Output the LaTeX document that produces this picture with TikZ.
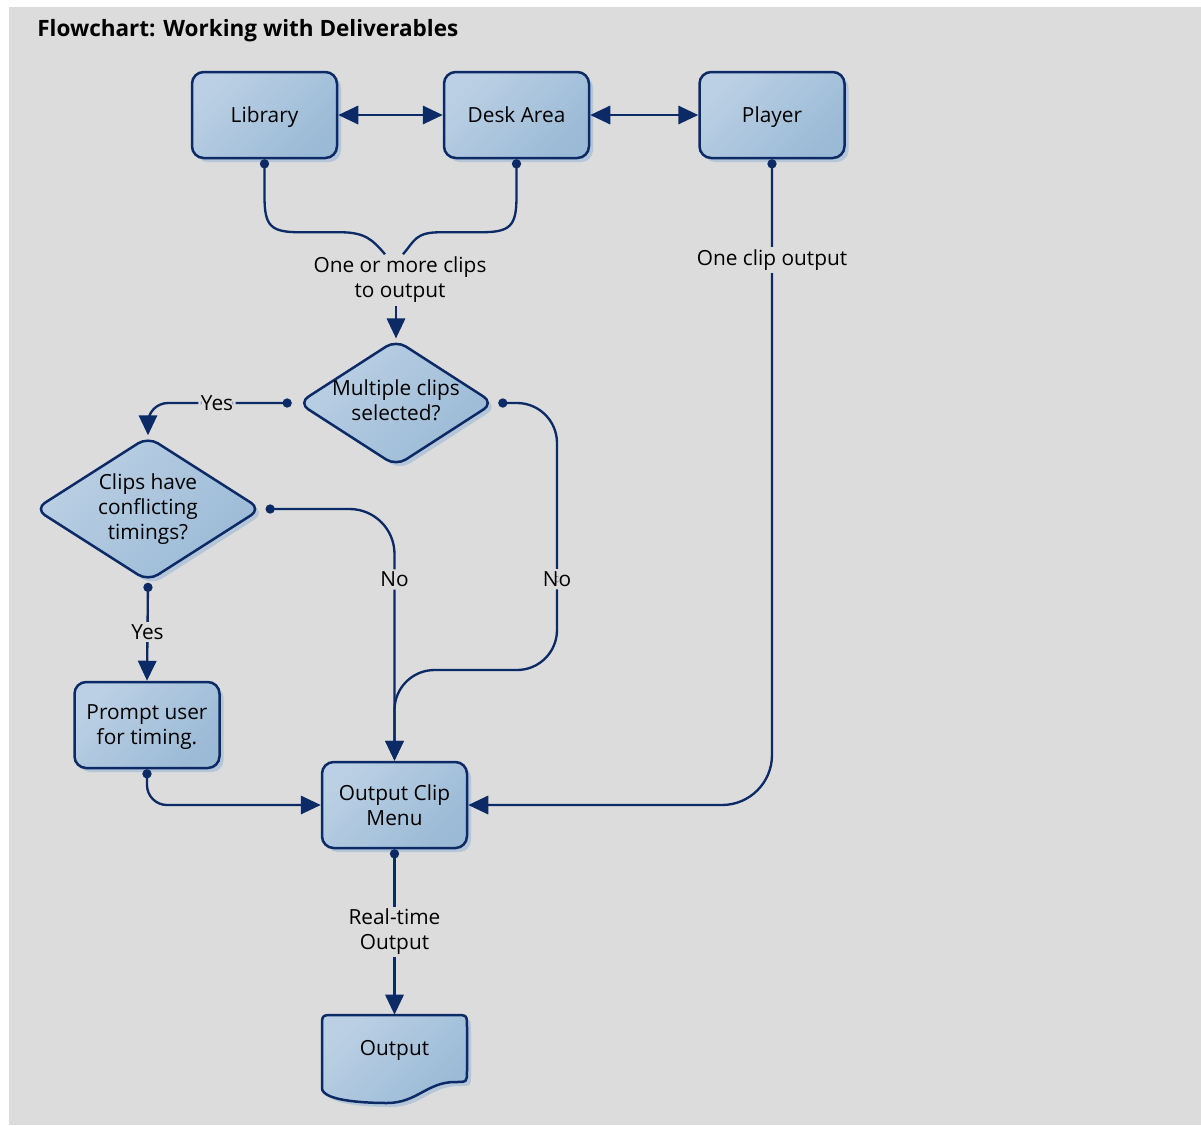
\documentclass[tikz,border=0pt]{standalone}
\usepackage{fontspec}
\setmainfont{Open Sans}
\usepackage{tikz}
\usetikzlibrary{shapes.geometric,arrows.meta,shadows,calc}

\definecolor{bggray}{HTML}{DCDCDC}
\definecolor{navy}{HTML}{0B2A66}
\definecolor{boxlight}{HTML}{BBD0E4}
\definecolor{boxdark}{HTML}{9BBAD6}
\definecolor{shadowblue}{HTML}{B4C6D8}

\newcommand{\decisiontext}[1]{\makebox[0pt]{\begin{tabular}{@{}c@{}}#1\end{tabular}}}

\tikzset{
	shapefill/.style={draw=navy, line width=1.5pt, top color=boxlight, bottom color=boxdark, shading angle=45,
		drop shadow={shadow xshift=2.4pt, shadow yshift=-2.4pt, fill=shadowblue, opacity=1}},
	procbox/.style={shapefill, rectangle, rounded corners=7pt, minimum width=87pt, minimum height=51.6pt, align=center, inner sep=2pt, text depth=0pt},
	decision/.style={shapefill, diamond, rounded corners=7pt, inner sep=0pt},
	lbl/.style={fill=bggray, text=black, inner sep=1.5pt, align=center},
	conn/.style={navy, line width=1.4pt},
	arr/.style={conn, -{Triangle[length=12pt,width=11pt]}},
	link/.style={conn, {Circle[length=5.5pt]}-{Triangle[length=12pt,width=11pt]}},
	dotline/.style={conn, {Circle[length=5.5pt]}-},
	biarrow/.style={conn, {Triangle[length=12pt,width=11pt]}-{Triangle[length=12pt,width=11pt]}},
}

\begin{document}
\begin{tikzpicture}[x=0.6pt, y=-0.6pt, font=\fontsize{12.5}{15}\selectfont]
	\useasboundingbox (0,0) rectangle (1201,1125);
	\fill[bggray] (9,7) rectangle (1201,1125);
	\node[anchor=base west, inner sep=0pt, font=\bfseries\fontsize{13.5}{16}\selectfont] (title) at (37,36) {Flowchart: Working with Deliverables};
	
	% top row
	\node[procbox] (lib) at (264.5,115) {Library};
	\node[procbox] (desk) at (516.5,115) {Desk Area};
	\node[procbox] (player) at (772,115) {Player};
	\draw[biarrow] (lib) -- (desk);
	\draw[biarrow] (desk) -- (player);
	
	\node[lbl] (clipsq) at (400,280) {One or more clips\\to output};
	\draw[dotline] (lib.south) -- ++(0,37) .. controls +(0,30) and +(-30,0) .. ++(36,36) -- ++(40,0) .. controls +(25,0) and +(-12,-14) .. ($(clipsq.north)+(-15,0)$);
	\draw[dotline] (desk.south) -- ++(0,37) .. controls +(0,30) and +(30,0) .. ++(-36,36) -- ++(-40,0) .. controls +(-25,0) and +(12,-14) .. ($(clipsq.north)+(3,0)$);
	
	% decisions
	\node[decision, minimum width=117.6pt, minimum height=76pt] (d1) at (396,403) {\decisiontext{Multiple clips\\selected?}};
	\node[decision, minimum width=136pt, minimum height=87pt] (d2) at (148,509) {\decisiontext{Clips have\\conflicting\\timings?}};
	\draw[arr] (clipsq.south -| d1.north) -- (d1.north);
	
	\node[procbox] (prompt) at (147,725) {Prompt user\\for timing.};
	\node[procbox] (menu) at (394.5,805) {Output Clip\\Menu};
	\coordinate (nobend) at (557,670);
	
	\draw[link, rounded corners=12pt] ($(d1.west)+(-5,0)$) -| node[lbl, pos=0.26] {Yes} (d2.north);
	\draw[link, rounded corners=27pt] ($(d2.east)+(3,0)$) -| node[lbl, pos=0.64] {No} (menu.north);
	\draw[link, rounded corners=24pt] ($(d1.east)+(3,0)$) -| node[lbl, pos=0.83] {No} (nobend) -| (menu.north);
	\draw[link] (d2.south) -- node[lbl] {Yes} (prompt.north);
	\draw[link, rounded corners=12pt] (prompt.south) |- (menu.west);
	\draw[link, rounded corners=30pt] (player.south) |- node[lbl, pos=0.078] {One clip output} (menu.east);
	
	% output document
	\coordinate (outc) at (394.5,1047.5);
	\begin{scope}[shift={(outc)}]
		\draw[shapefill] (-72.5,40.5) -- (-72.5,-20.5) .. controls (-72.5,-32.5) .. (-60.5,-32.5)
			-- (60.5,-32.5) .. controls (72.5,-32.5) .. (72.5,-20.5)
			-- (72.5,23.5) .. controls (72.5,34.5) .. (60.5,34.5)
			.. controls (32.5,34.5) and (22.5,55.5) .. (-7.5,55.5)
			.. controls (-34.5,55.5) and (-72.5,52.5) .. cycle;
	\end{scope}
	\node[minimum width=87pt, minimum height=39pt, inner sep=0pt, text depth=0pt] (out) at (outc) {Output};
	\draw[link] (menu.south) -- node[lbl] {Real-time\\Output} (out.north);
\end{tikzpicture}
\end{document}
